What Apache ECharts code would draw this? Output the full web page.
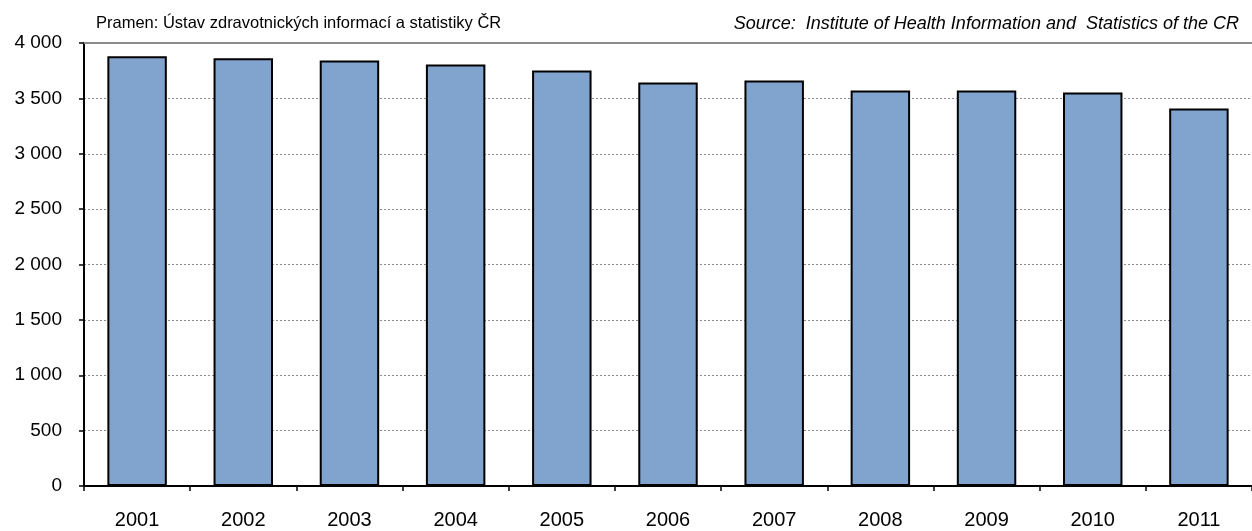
<!DOCTYPE html>
<html>
<head>
<meta charset="utf-8">
<script src="https://cdn.jsdelivr.net/npm/echarts@6/dist/echarts.min.js"></script>
<style>
html,body{margin:0;padding:0;background:#fff}
#chart{width:1252px;height:531px}
</style>
</head>
<body>
<div id="chart"></div>
<script>
const years = ['2001','2002','2003','2004','2005','2006','2007','2008','2009','2010','2011']
const values = [3881, 3863, 3842, 3806, 3752, 3644, 3662, 3571, 3571, 3553, 3409]
const yTicks = [0, 500, 1000, 1500, 2000, 2500, 3000, 3500, 4000]
const sourceCz = 'Pramen: Ústav zdravotnických informací a statistiky ČR'
const sourceEn = 'Source:  Institute of Health Information and  Statistics of the CR'

let myChart = echarts.init(document.getElementById('chart'))
let fmt = v => String(v).replace(/\B(?=(\d{3})+(?!\d))/g, ' ')

let options = {
    animation: false,
    textStyle: {fontFamily: 'Liberation Sans, Arial, sans-serif'},
    title: [
        {
            text: sourceCz, left: 91, top: 10,
            textStyle: {fontSize: 16.5, fontWeight: 'normal', color: '#000'}
        },
        {
            text: sourceEn, right: 8, top: 10,
            textStyle: {fontSize: 18, fontWeight: 'normal', fontStyle: 'italic', color: '#000'}
        }
    ],
    grid: {left: 84, right: 0, top: 43, bottom: 45, containLabel: false},
    xAxis: [
        {
            type: 'category',
            data: years,
            axisLine: {lineStyle: {color: '#000', width: 2}},
            axisTick: {show: true, length: 5, lineStyle: {color: '#000', width: 1.5}},
            axisLabel: {fontSize: 20, color: '#000', margin: 24}
        },
        {
            // horni okraj grafu
            type: 'category',
            data: years,
            position: 'top',
            axisLine: {lineStyle: {color: '#8c8c8c', width: 2}},
            axisTick: {show: false},
            axisLabel: {show: false}
        }
    ],
    yAxis: {
        type: 'value',
        min: yTicks[0],
        max: yTicks[yTicks.length - 1],
        interval: 500,
        axisLine: {show: true, lineStyle: {color: '#000', width: 2}},
        axisTick: {show: true, length: 5, lineStyle: {color: '#000', width: 1.5}},
        axisLabel: {fontSize: 19, color: '#000', margin: 22, formatter: fmt},
        splitLine: {lineStyle: {color: '#8c8c8c', type: [2, 2], width: 1}}
    },
    series: [
        {
            type: 'bar',
            data: values,
            barCategoryGap: '44%',
            itemStyle: {color: '#81A4CF', borderColor: '#000', borderWidth: 2}
        }
    ]
}
myChart.setOption(options)
</script>
</body>
</html>
